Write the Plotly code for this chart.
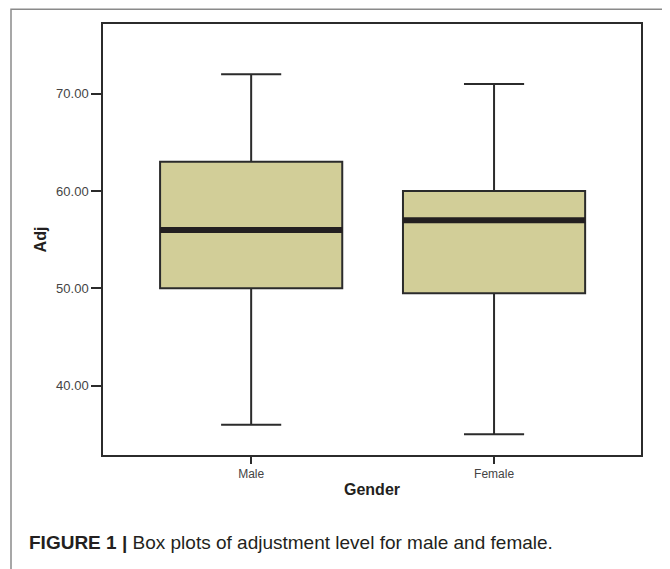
import plotly.graph_objects as go

categories = ["Male", "Female"]
q1 = [50.0, 49.5]
median = [56.0, 57.0]
q3 = [63.0, 60.0]
lower = [36.0, 35.0]
upper = [72.0, 71.0]
ytick_vals = [40, 50, 60, 70]

BOX_FILL = "#D2CE98"
LINE = "#2b2b2b"
FONT = "Liberation Sans, Arial, sans-serif"
BOXGAP = 0.25
half = (1 - BOXGAP) / 2

fig = go.Figure()
fig.add_trace(go.Box(
    x=categories, q1=q1, median=median, q3=q3,
    lowerfence=lower, upperfence=upper,
    fillcolor=BOX_FILL, line=dict(color=LINE, width=2),
    whiskerwidth=0.33, boxpoints=False, showlegend=False,
))

shapes = []
for i, m in enumerate(median):
    shapes.append(dict(type="line", xref="x", yref="y",
                       x0=i - half, x1=i + half, y0=m, y1=m,
                       line=dict(color="#231F20", width=6)))
# outer figure frame
shapes.append(dict(type="rect", xref="paper", yref="paper",
                   x0=-0.171, x1=1.052, y0=-0.4, y1=1.034,
                   line=dict(color="#8a8a8a", width=1.5), layer="below"))

fig.update_layout(
    width=662, height=561,
    margin=dict(l=95, r=29, t=16, b=114),
    paper_bgcolor="white", plot_bgcolor="white",
    font=dict(family=FONT, color="#333333"),
    boxgap=BOXGAP, boxgroupgap=0,
    shapes=shapes,
    xaxis=dict(
        range=[-0.61, 1.605], showgrid=False, zeroline=False,
        showline=True, mirror=True, linecolor=LINE, linewidth=1.5,
        ticks="outside", ticklen=7, tickcolor=LINE, tickwidth=1.5,
        tickfont=dict(size=12, color="#444444"),
        title=dict(text="<b>Gender</b>", font=dict(size=16, color="#231F20"), standoff=4),
    ),
    yaxis=dict(
        range=[32.88, 77.16], showgrid=False, zeroline=False,
        showline=True, mirror=True, linecolor=LINE, linewidth=1.5,
        ticks="outside", ticklen=10, tickcolor=LINE, tickwidth=1.5,
        tickvals=ytick_vals, tickformat=".2f",
        tickfont=dict(size=13, color="#444444"),
        title=dict(text="<b>Adj</b>", font=dict(size=16, color="#231F20"), standoff=6),
    ),
    annotations=[dict(
        xref="paper", yref="paper", x=-0.141, y=-0.204,
        xanchor="left", yanchor="middle", showarrow=False,
        text="<b>FIGURE 1 |</b> Box plots of adjustment level for male and female.",
        font=dict(size=19, color="#231F20", family=FONT),
    )],
)

fig.write_html("out.html")
